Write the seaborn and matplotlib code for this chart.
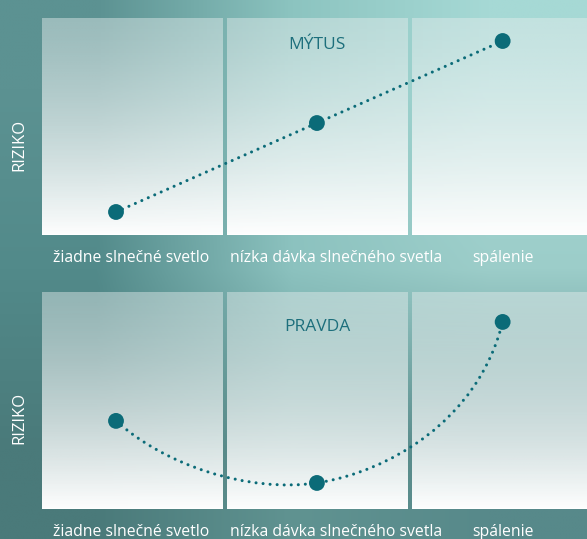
import numpy as np
import matplotlib
matplotlib.use("Agg")
import matplotlib.pyplot as plt
from matplotlib.path import Path
from matplotlib.patches import PathPatch
import seaborn as sns

# data
categories = ["žiadne slnečné svetlo", "nízka dávka slnečného svetla", "spálenie"]
point_x = [0.40, 1.486, 2.49]
myth_risk = [0.106, 0.516, 0.894]
truth_risk = [0.406, 0.12, 0.862]
panel_titles = ["MÝTUS", "PRAVDA"]
y_label = "RIZIKO"

# layout constants
label_x = [0.484, 1.589, 2.49]
DOT = "#0b6b78"
TITLE_C = "#1d6f7c"

sns.set_theme(style="white")
plt.rcParams["font.family"] = ["Open Sans", "DejaVu Sans"]

fig = plt.figure(figsize=(5.87, 5.39), dpi=100)

# ---------------------------------------------------------
# teal background
# ---------------------------------------------------------
bg = fig.add_axes([0, 0, 1, 1], zorder=0)
grid = np.array([
    [[0x5c, 0x92, 0x92], [0x8c, 0xc4, 0xc0], [0xa6, 0xd9, 0xd5]],
    [[0x52, 0x8a, 0x8a], [0x8c, 0xc2, 0xbf], [0x9c, 0xcd, 0xc9]],
    [[0x4a, 0x7a, 0x7a], [0x60, 0x93, 0x91], [0x57, 0x89, 0x8a]],
]) / 255.0
bg.imshow(grid, aspect="auto", interpolation="bilinear", extent=[0, 1, 0, 1])
bg.set_axis_off()

# column gradient (light at top, white at bottom)
n = 200
t = np.linspace(0, 1, n)[:, None]
col = np.zeros((n, 1, 4))
col[..., 0] = 0.90 + 0.10 * t
col[..., 1] = 0.93 + 0.07 * t
col[..., 2] = 0.93 + 0.07 * t
col[..., 3] = 0.46 + 0.54 * t ** 1.3

W = 545 / 185
panels = [
    (18, 235, myth_risk, panel_titles[0], 0.876),
    (292, 509, truth_risk, panel_titles[1], 0.839),
]

axes = []
for top, bottom, risk, title, ty in panels:
    ax = fig.add_axes([42 / 587, 1 - bottom / 539, 545 / 587, (bottom - top) / 539], zorder=1)
    ax.set_facecolor("none")
    for i in range(3):
        ax.imshow(col, extent=[i, i + 181 / 185, 0, 1], aspect="auto", zorder=0)
    ax.set_xlim(0, W)
    ax.set_ylim(0, 1)
    for s in ax.spines.values():
        s.set_visible(False)
    ax.set_yticks([])
    ax.set_xticks(label_x, categories)
    ax.tick_params(axis="x", length=0, pad=10.5, labelsize=11.3, labelcolor="white")
    ax.text(1.486, ty, title, color=TITLE_C, fontsize=12.5, ha="center", va="center")
    axes.append(ax)

ax_top, ax_bot = axes

# Myth: straight dotted line
sns.lineplot(x=point_x, y=myth_risk, ax=ax_top, color=DOT, linewidth=2.2,
             linestyle=(0, (0.01, 2.3)), dash_capstyle="round", zorder=2)
sns.scatterplot(x=point_x, y=myth_risk, ax=ax_top, color=DOT, s=130,
                edgecolor="none", zorder=3)

# Truth: smooth dotted curve through the three points (bezier handles)
p0 = np.array([point_x[0], truth_risk[0]])
p1 = np.array([point_x[1], truth_risk[1]])
p2 = np.array([point_x[2], truth_risk[2]])
verts = [
    p0, p0 + [0.27, -0.207], p1 + [-0.37, -0.045], p1,
    p1 + [0.38, 0.05], p2 + [-0.135, -0.46], p2,
]
codes = [Path.MOVETO] + [Path.CURVE4] * 6
curve = PathPatch(Path(verts, codes), facecolor="none", edgecolor=DOT,
                  linewidth=2.2, linestyle=(0, (0.01, 2.3)), capstyle="round", zorder=2)
ax_bot.add_patch(curve)
sns.scatterplot(x=point_x, y=truth_risk, ax=ax_bot, color=DOT, s=130,
                edgecolor="none", zorder=3)

for ax in axes:
    ax.set_xlim(0, W)
    ax.set_ylim(0, 1)
    ax.set_xlabel("")
    ax.set_ylabel("")

fig.text(19 / 587, 1 - 145 / 539, y_label, rotation=90, color="white",
         fontsize=12, ha="center", va="center")
fig.text(19 / 587, 1 - 418 / 539, y_label, rotation=90, color="white",
         fontsize=12, ha="center", va="center")

fig.savefig("out.png", dpi=100)
